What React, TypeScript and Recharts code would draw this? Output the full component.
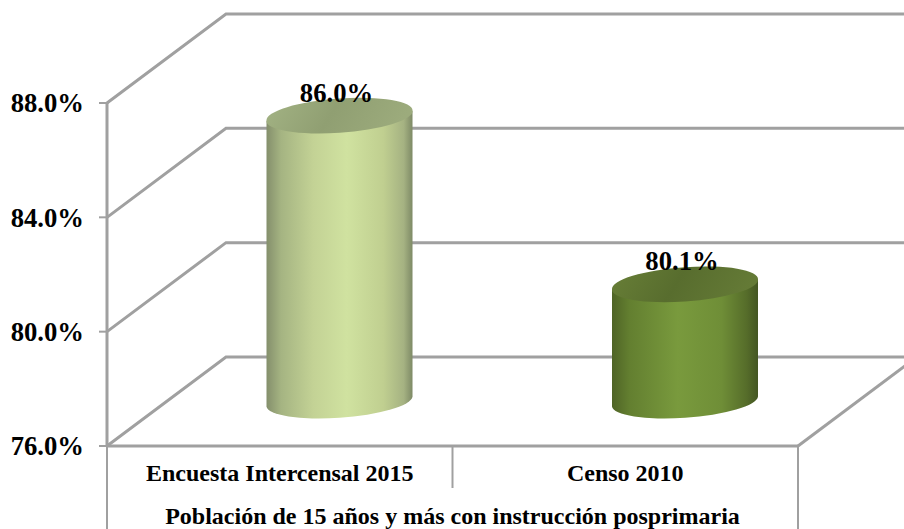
import React from "react";
import { BarChart, Bar, XAxis, YAxis, ReferenceLine, LabelList } from "recharts";

const categories = ["Encuesta Intercensal 2015", "Censo 2010"];
const values = [86.0, 80.1];
const yTicks = [76, 80, 84, 88];
const groupTitle = "Población de 15 años y más con instrucción posprimaria";
const data = categories.map((name, i) => ({ name, value: values[i] }));

const W = 904, H = 529;
const LEFT = 107, RIGHT = 798, TOP = 103, FLOOR = 446;
const DEPTH_X = 119, DEPTH_Y = 89;
const GRID = "#a0a0a0";
const FONT = "'Liberation Serif', 'Times New Roman', serif";

const GridShape = (p: any) => {
  const { x1, y1, x2 } = p;
  const isFloor = Math.abs(y1 - FLOOR) < 1;
  const bx = x1 + DEPTH_X;
  const by = y1 - DEPTH_Y;
  return (
    <g>
      <polyline points={`${x1},${y1} ${bx},${by} ${W + 5},${by}`} fill="none" stroke={GRID} strokeWidth={3} />
      {isFloor && (
        <line x1={x2} y1={y1} x2={x2 + DEPTH_X} y2={by} stroke={GRID} strokeWidth={3} />
      )}
    </g>
  );
};

const Cylinder = (p: any) => {
  const { x, y, width, height, index } = p;
  const cx = x + width / 2 + DEPTH_X / 2;
  const cy = y - DEPTH_Y / 2;
  const by = y + height - DEPTH_Y / 2;
  const hw = width / 2;
  const a = hw + 0.2, b = 16.7, rot = -4.1, tilt = 5;
  const body = `M${cx - hw},${cy + tilt} L${cx - hw},${by + tilt} A${a},${b} ${rot} 0 0 ${cx + hw},${by - tilt} L${cx + hw},${cy - tilt} Z`;
  const top = `M${cx - hw},${cy + tilt} A${a},${b} ${rot} 1 1 ${cx + hw},${cy - tilt} A${a},${b} ${rot} 1 1 ${cx - hw},${cy + tilt} Z`;
  return (
    <g>
      <path d={body} fill={`url(#body${index})`} />
      <path d={top} fill={`url(#top${index})`} />
    </g>
  );
};

const ValueLabel = (p: any) => {
  const { x, y, width, value } = p;
  return (
    <text
      x={x + width / 2 + DEPTH_X / 2 - 3}
      y={y - DEPTH_Y / 2 - 14}
      textAnchor="middle"
      fontFamily={FONT}
      fontWeight="bold"
      fontSize={26.67}
      fill="#000"
    >
      {Number(value).toFixed(1)}%
    </text>
  );
};

const CategoryTick = (p: any) => {
  const { x, payload, index } = p;
  const band = (RIGHT - LEFT) / categories.length;
  const edge = x + band / 2;
  return (
    <g>
      {index < categories.length - 1 && (
        <line x1={edge} y1={FLOOR} x2={edge} y2={488} stroke={GRID} strokeWidth={2} />
      )}
      <text x={x} y={481} textAnchor="middle" fontFamily={FONT} fontWeight="bold" fontSize={24} fill="#000">
        {payload.value}
      </text>
    </g>
  );
};

const FrameLines = (p: any) => {
  const { x1, x2 } = p;
  return (
    <g>
      <line x1={x1} y1={FLOOR} x2={x1} y2={H} stroke={GRID} strokeWidth={2} />
      <line x1={x2} y1={FLOOR} x2={x2} y2={H} stroke={GRID} strokeWidth={2} />
    </g>
  );
};

export default function App() {
  return (
    <div style={{ position: "absolute", left: 0, top: 0, width: W, height: H, overflow: "hidden", background: "#fff" }}>
      <BarChart
        width={W}
        height={H}
        data={data}
        margin={{ top: TOP, right: W - RIGHT, bottom: 0, left: 0 }}
        barSize={146}
      >
        <defs>
          <linearGradient id="body0" x1="0" y1="0" x2="1" y2="0">
            <stop offset="0" stopColor="#848f6c" />
            <stop offset="0.1" stopColor="#a5b482" />
            <stop offset="0.32" stopColor="#c3d295" />
            <stop offset="0.55" stopColor="#d0e2a0" />
            <stop offset="0.8" stopColor="#c0cf90" />
            <stop offset="0.94" stopColor="#a5b282" />
            <stop offset="1" stopColor="#7e8a66" />
          </linearGradient>
          <linearGradient id="top0" x1="0" y1="0" x2="1" y2="0.15">
            <stop offset="0" stopColor="#a3b384" />
            <stop offset="0.5" stopColor="#909f72" />
            <stop offset="1" stopColor="#9cab7c" />
          </linearGradient>
          <linearGradient id="body1" x1="0" y1="0" x2="1" y2="0">
            <stop offset="0" stopColor="#4f6426" />
            <stop offset="0.12" stopColor="#637f30" />
            <stop offset="0.45" stopColor="#799a3d" />
            <stop offset="0.75" stopColor="#6f8e37" />
            <stop offset="0.92" stopColor="#566d2a" />
            <stop offset="1" stopColor="#445623" />
          </linearGradient>
          <linearGradient id="top1" x1="0" y1="0" x2="1" y2="0.15">
            <stop offset="0" stopColor="#687f37" />
            <stop offset="0.5" stopColor="#586d2e" />
            <stop offset="1" stopColor="#647a36" />
          </linearGradient>
        </defs>
        <XAxis
          dataKey="name"
          height={H - FLOOR}
          axisLine={{ stroke: GRID, strokeWidth: 3 }}
          tickLine={false}
          interval={0}
          tick={CategoryTick}
          label={{
            value: groupTitle,
            position: "insideBottom",
            offset: 5,
            style: { fontFamily: FONT, fontWeight: "bold", fontSize: 24, fill: "#000" },
          }}
        />
        <YAxis
          domain={[76, 88]}
          ticks={yTicks}
          width={LEFT}
          interval={0}
          axisLine={{ stroke: GRID, strokeWidth: 3 }}
          tickLine={{ stroke: GRID, strokeWidth: 2 }}
          tickSize={8}
          tickMargin={15}
          tickFormatter={(v: number) => `${v.toFixed(1)}%`}
          tick={{ fontFamily: FONT, fontWeight: "bold", fontSize: 26.67, fill: "#000" }}
        />
        {yTicks.map((t) => (
          <ReferenceLine key={t} y={t} shape={GridShape} zIndex={0} />
        ))}
        <ReferenceLine y={76} shape={FrameLines} zIndex={0} />
        <Bar dataKey="value" shape={Cylinder} isAnimationActive={false}>
          <LabelList dataKey="value" content={ValueLabel} />
        </Bar>
      </BarChart>
    </div>
  );
}
